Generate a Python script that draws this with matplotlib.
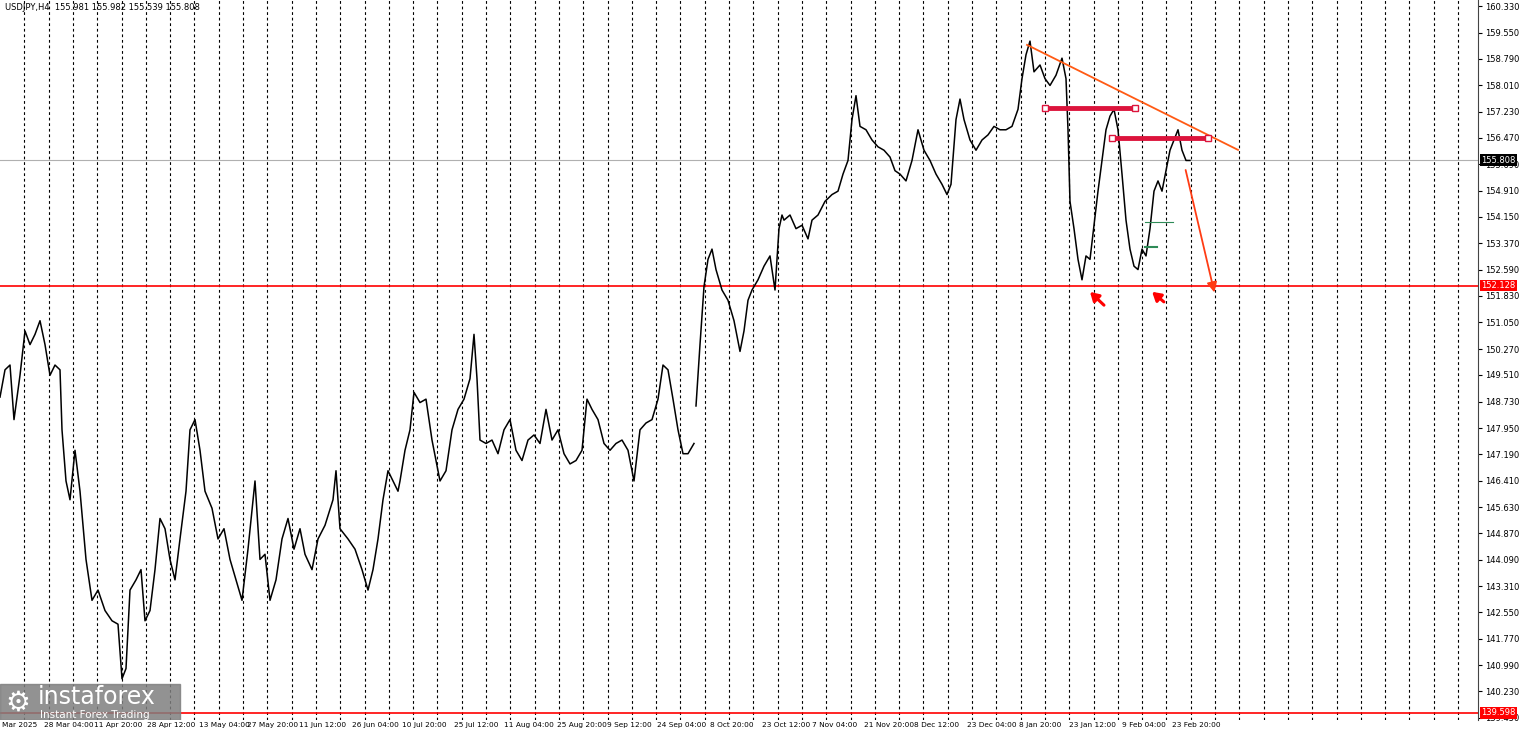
import matplotlib
matplotlib.use("Agg")
import matplotlib.pyplot as plt
from matplotlib.patches import Rectangle, FancyArrowPatch

# bar positions (H4 bar index, in chart pixels) and closing prices
bars_a = [0, 5, 10, 14, 20, 25, 30, 35, 40, 45, 50, 55, 60, 62, 66, 70, 75, 80, 86, 92, 98, 105, 112, 118,
          122, 126, 130, 136, 141, 145, 150, 155, 160, 165, 170, 175, 180, 186, 190, 195, 200, 205, 212,
          218, 224, 230, 236, 242, 248, 255, 260, 265, 270, 276, 282, 288, 294, 300, 305, 312, 318, 325,
          333, 336, 340, 348, 355, 362, 368, 373, 378, 383, 388, 393, 398, 400, 405, 410, 414, 420, 426,
          432, 440, 446, 452, 458, 464, 470, 474, 477, 480, 486, 492, 498, 504, 510, 516, 522, 528, 534,
          540, 546, 552, 558, 564, 570, 576, 582, 587, 592, 598, 604, 610, 616, 622, 628, 634, 640, 646,
          652, 658, 663, 668, 673, 678, 683, 688, 694]
close_a = [148.86, 149.66, 149.8, 148.2, 149.5, 150.8, 150.4, 150.7, 151.1, 150.4, 149.5, 149.8, 149.66,
           147.9, 146.4, 145.85, 147.3, 146.1, 144.1, 142.9, 143.2, 142.6, 142.3, 142.2, 140.6, 140.9,
           143.2, 143.5, 143.8, 142.3, 142.6, 143.8, 145.3, 145.0, 144.1, 143.5, 144.7, 146.1, 147.9,
           148.2, 147.3, 146.1, 145.6, 144.7, 145.0, 144.1, 143.5, 142.9, 144.4, 146.4, 144.1, 144.25,
           142.9, 143.5, 144.7, 145.3, 144.4, 145.0, 144.25, 143.8, 144.7, 145.1, 145.85, 146.7, 145.0,
           144.7, 144.4, 143.8, 143.2, 143.8, 144.7, 145.85, 146.7, 146.4, 146.1, 146.4, 147.3, 147.9,
           149.0, 148.7, 148.8, 147.6, 146.4, 146.7, 147.9, 148.5, 148.8, 149.4, 150.7, 149.4, 147.6,
           147.5, 147.6, 147.2, 147.9, 148.2, 147.3, 147.0, 147.6, 147.75, 147.5, 148.5, 147.6, 147.9,
           147.2, 146.9, 147.0, 147.3, 148.8, 148.5, 148.2, 147.5, 147.3, 147.5, 147.6, 147.3, 146.4,
           147.9, 148.1, 148.2, 148.8, 149.8, 149.66, 148.8, 147.9, 147.2, 147.2, 147.5]
bars_b = [696, 700, 704, 708, 712, 716, 722, 728, 734, 740, 744, 748, 752, 758, 764, 770, 775, 779, 782,
          784, 790, 796, 802, 808, 812, 818, 825, 832, 838, 843, 848, 852, 856, 860, 866, 872, 878, 884,
          890, 895, 900, 906, 912, 918, 924, 930, 936, 942, 947, 951, 956, 960, 964, 970, 976, 982, 988,
          994, 1000, 1006, 1012, 1018, 1022, 1026, 1030, 1034, 1040, 1045, 1050, 1056, 1062, 1066, 1068,
          1070, 1074, 1078, 1082, 1086, 1090, 1094, 1098, 1102, 1106, 1110, 1114, 1118, 1122, 1126, 1130,
          1134, 1138, 1142, 1146, 1150, 1154, 1158, 1162, 1166, 1170, 1174, 1178, 1182, 1186, 1190]
close_b = [148.6, 150.4, 152.1, 152.9, 153.2, 152.6, 152.0, 151.7, 151.1, 150.2, 150.8, 151.7, 152.0,
           152.3, 152.7, 153.0, 152.0, 153.8, 154.2, 154.05, 154.2, 153.8, 153.9, 153.5, 154.05, 154.2,
           154.6, 154.8, 154.9, 155.4, 155.8, 157.0, 157.7, 156.8, 156.7, 156.4, 156.2, 156.1, 155.9,
           155.5, 155.4, 155.2, 155.8, 156.7, 156.1, 155.8, 155.4, 155.1, 154.8, 155.1, 157.0, 157.6,
           157.0, 156.4, 156.1, 156.4, 156.55, 156.8, 156.7, 156.7, 156.8, 157.3, 158.2, 158.9, 159.3,
           158.4, 158.6, 158.2, 158.0, 158.3, 158.8, 158.2, 156.7, 154.6, 153.8, 152.9, 152.3, 153.0,
           152.9, 153.9, 154.9, 155.8, 156.7, 157.1, 157.3, 156.7, 155.4, 154.05, 153.2, 152.7, 152.6,
           153.2, 153.0, 153.8, 154.9, 155.2, 154.9, 155.5, 156.1, 156.4, 156.7, 156.1, 155.8, 155.8]

price_ticks = [160.330, 159.550, 158.790, 158.010, 157.230, 156.470, 155.690, 154.910, 154.150, 153.370,
               152.590, 151.830, 151.050, 150.270, 149.510, 148.730, 147.950, 147.190, 146.410, 145.630,
               144.870, 144.090, 143.310, 142.550, 141.770, 140.990, 140.230, 139.450]
date_labels = ["Mar 2025", "28 Mar 04:00", "11 Apr 20:00", "28 Apr 12:00", "13 May 04:00", "27 May 20:00",
               "11 Jun 12:00", "26 Jun 04:00", "10 Jul 20:00", "25 Jul 12:00", "11 Aug 04:00", "25 Aug 20:00",
               "9 Sep 12:00", "24 Sep 04:00", "8 Oct 20:00", "23 Oct 12:00", "7 Nov 04:00", "21 Nov 20:00",
               "8 Dec 12:00", "23 Dec 04:00", "8 Jan 20:00", "23 Jan 12:00", "9 Feb 04:00", "23 Feb 20:00"]
date_pos = [0, 42, 92, 145, 197, 245, 297, 350, 400, 452, 502, 555, 605, 655, 708, 760, 810, 862, 912,
            965, 1017, 1067, 1120, 1170]

last_price = 155.808
support = 152.128
low_line = 139.598

fig = plt.figure(figsize=(15.21, 7.32), dpi=100)
ax = fig.add_axes([0, 12 / 732, 1478 / 1521, 720 / 732])
ax.set_xlim(0, 1478)
ax.set_ylim(139.39, 160.506)

for k in range(1, 61):
    ax.axvline(k * 24.3, color="black", lw=0.8, ls=(0, (2.5, 2.5)), zorder=1)

ax.plot(bars_a, close_a, color="black", lw=1.1, zorder=3)
ax.plot(bars_b, close_b, color="black", lw=1.1, zorder=3)

ax.axhline(last_price, color="#b0b0b0", lw=0.8, zorder=2)
ax.axhline(support, color="red", lw=1.2, zorder=2)
ax.axhline(low_line, color="red", lw=1.2, zorder=2)

# trend line and levels
ax.plot([1027, 1238], [159.19, 156.11], color="#ff5a14", lw=1.3, zorder=4)
ax.plot([1045, 1135], [157.34, 157.34], color="#dc143c", lw=3.5, zorder=4)
ax.plot([1112, 1208], [156.46, 156.46], color="#dc143c", lw=3.5, zorder=4)
for xx, yy in [(1045, 157.34), (1135, 157.34), (1112, 156.46), (1208, 156.46)]:
    ax.plot(xx, yy, marker="s", ms=4, mfc="white", mec="#dc143c", zorder=5)
ax.plot([1145, 1173], [154.0, 154.0], color="#2e8b57", lw=0.8, zorder=4)
ax.plot([1145, 1157], [153.25, 153.25], color="#2e8b57", lw=1.5, zorder=4)
ax.add_patch(FancyArrowPatch((1185, 155.6), (1215, 151.85), arrowstyle="-|>,head_length=6,head_width=3",
                             color="#ff3c14", lw=1.3, zorder=5))
for x0, y0, x1, y1 in [(1106, 151.5, 1088, 152.0), (1166, 151.6, 1150, 152.0)]:
    ax.add_patch(FancyArrowPatch((x0, y0), (x1, y1), arrowstyle="-|>,head_length=5,head_width=3",
                                 color="red", lw=2.2, zorder=5))

ax.text(5, 160.3, "USDJPY,H4  155.981 155.982 155.539 155.808", fontsize=6, va="center", zorder=6)

ax.yaxis.tick_right()
ax.set_yticks(price_ticks)
ax.set_yticklabels([f"{t:.3f}" for t in price_ticks], fontsize=6)
ax.tick_params(axis="y", length=3, pad=2)
ax.set_xticks([])
for lbl, xp in zip(date_labels, date_pos):
    ax.text(xp + 2, 139.39 - 0.06, lbl, fontsize=5.3, ha="left", va="top", clip_on=False)
for val, bg in [(last_price, "black"), (support, "red"), (low_line, "red")]:
    ax.text(1481, val, f"{val:.3f}", fontsize=6, color="white", va="center", ha="left",
            clip_on=False, zorder=7, bbox=dict(boxstyle="square,pad=0.15", fc=bg, ec="none"))

# watermark
ax.add_patch(Rectangle((0, 139.39), 180, 1.05, color="#7f7f7f", alpha=0.85, zorder=6))
ax.text(38, 140.05, "instaforex", fontsize=17, color="white", va="center", zorder=7)
ax.text(40, 139.55, "Instant Forex Trading", fontsize=7.5, color="white", va="center", zorder=7)
ax.text(18, 139.9, "\u2699", fontsize=20, color="white", ha="center", va="center", zorder=7)

for s in ["top", "left", "bottom"]:
    ax.spines[s].set_visible(False)
ax.spines["right"].set_color("#444444")

fig.savefig("out.png", dpi=100)
